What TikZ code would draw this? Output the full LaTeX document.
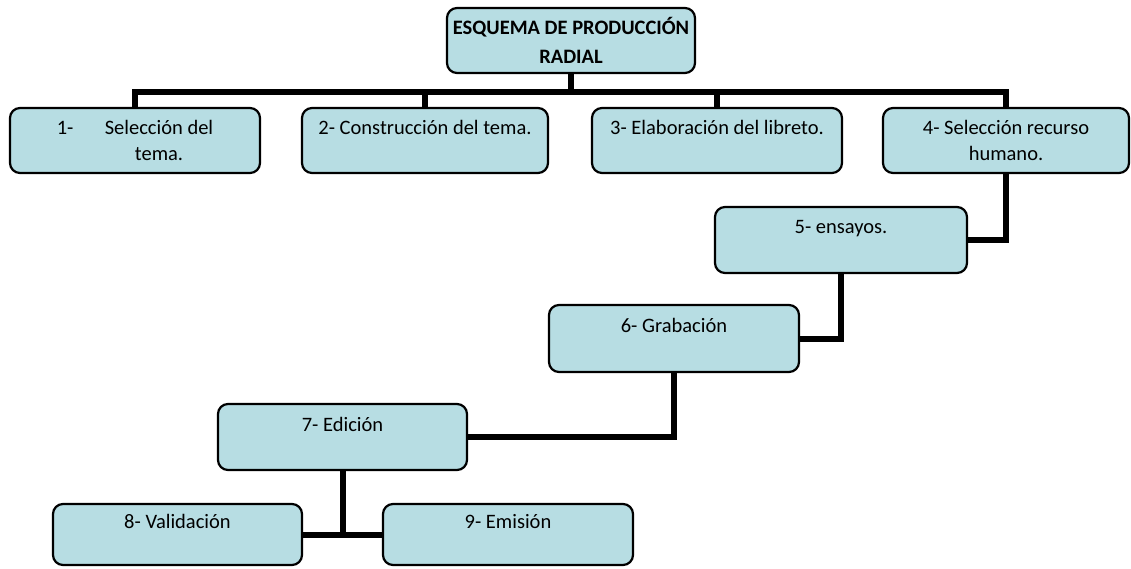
\documentclass[tikz,border=0pt]{standalone}
\usepackage{fontspec}
\setmainfont{Carlito}
\usepackage{tikz}
\usetikzlibrary{positioning}
\definecolor{boxfill}{RGB}{183,221,227}
\tikzset
{
    stepnode/.style = {rectangle, rounded corners=10pt, draw=black, line width=2.2pt, fill=boxfill, align=center, font=\fontsize{20.5}{26}\selectfont, inner sep=0pt},
    headnode/.style = {stepnode, font=\fontsize{20.5}{29}\selectfont\bfseries},
    link/.style     = {draw=black, line width=6pt}
}
\begin{document}
\begin{tikzpicture}[x=1pt, y=-1pt]
    \useasboundingbox (0,0) rectangle (1131,568);
    \node [headnode, minimum width=248pt, minimum height=65pt] (title) at (571,40.5) {ESQUEMA DE PRODUCCIÓN \\ RADIAL};
    \node [stepnode, minimum width=250pt, minimum height=65pt] (sel) at (135,140.5) {\makebox[48pt][l]{1-}Selección del \\ \hspace*{48pt}tema.};
    \node [stepnode, minimum width=246pt, minimum height=65pt] (cons) at (425,140.5) {2- Construcción del tema. \\ \mbox{}};
    \node [stepnode, minimum width=250pt, minimum height=65pt] (lib) at (717,140.5) {3- Elaboración del libreto. \\ \mbox{}};
    \node [stepnode, minimum width=246pt, minimum height=65pt] (rec) at (1006,140.5) {4- Selección recurso \\ humano.};
    \node [stepnode, minimum width=252pt, minimum height=66pt] (ens) at (841,240) {5- ensayos. \\ \mbox{}};
    \node [stepnode, minimum width=250pt, minimum height=67pt] (grab) at (674,338.5) {6- Grabación \\ \mbox{}};
    \node [stepnode, minimum width=249pt, minimum height=66pt] (edic) at (342.5,437) {7- Edición \\ \mbox{}};
    \node [stepnode, minimum width=249pt, minimum height=61pt] (valid) at (177.5,534.5) {8- Validación \\ \mbox{}};
    \node [stepnode, minimum width=250pt, minimum height=61pt] (emis) at (508,534.5) {9- Emisión \\ \mbox{}};
    \coordinate (bus) at (571,92);
    \draw [link] (title.south) -- (bus);
    \draw [link] (sel.north) |- (bus) -| (rec.north);
    \draw [link] (cons.north) -- (cons.north |- bus);
    \draw [link] (lib.north) -- (lib.north |- bus);
    \draw [link] (rec.south) |- (ens.east);
    \draw [link] (ens.south) |- (grab.east);
    \draw [link] (grab.south) |- (edic.east);
    \draw [link] (edic.south) -- (edic.south |- valid.east);
    \draw [link] (valid.east) -- (emis.west);
\end{tikzpicture}
\end{document}
